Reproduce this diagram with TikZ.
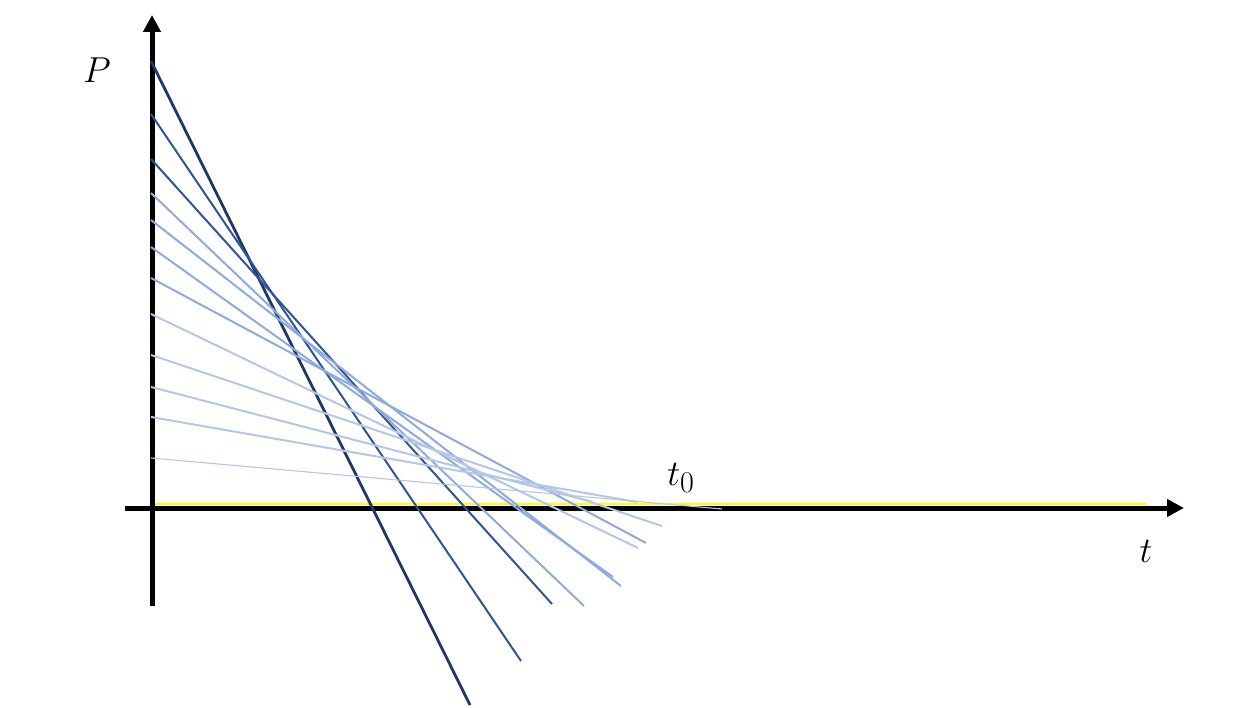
\documentclass[tikz,border=0pt]{standalone}
\usepackage{graphicx}
\usetikzlibrary{arrows.meta}
\definecolor{navy}{HTML}{203864}
\definecolor{midblue}{HTML}{2F5597}
\definecolor{lightblue}{HTML}{8FAADC}
\definecolor{paleblue}{HTML}{B4C7E7}
\definecolor{brightyellow}{HTML}{FFFF00}
\newcommand{\biglbl}[1]{\scalebox{1.45}{\Huge$#1$}}
\begin{document}
\begin{tikzpicture}[x=1pt,y=-1pt,
  axis/.style={line width=5pt,-{Triangle[length=17pt,width=17pt]}},
  tline/.style={line width=2pt},
  lbl/.style={inner sep=0pt}]
\useasboundingbox (0,0) rectangle (1245,708);
% axes
\coordinate (xs) at (125,508);
\coordinate (xe) at (1184,508);
\coordinate (ys) at (152,606);
\coordinate (ye) at (152,15);
\draw[axis] (xs) -- (xe);
\draw[axis] (ys) -- (ye);
% yellow line
\draw[brightyellow,line width=2.4pt] (154.5,504) -- (1147,504);
% tangent lines
\draw[tline,navy,line width=2.8pt] (151,61) -- (470,705);
\draw[tline,midblue] (151,114) -- (521,661);
\draw[tline,midblue] (151,159) -- (552,604);
\draw[tline,lightblue] (151,193) -- (584,606);
\draw[tline,lightblue] (151,220) -- (621,586);
\draw[tline,lightblue] (151,247) -- (613,577);
\draw[tline,lightblue] (151,278) -- (646,543);
\draw[tline,paleblue] (151,314) -- (638,548);
\draw[tline,paleblue] (151,355) -- (662,526);
\draw[tline,paleblue] (151,387) -- (593,502);
\draw[tline,paleblue] (151,417) -- (637,502);
\draw[paleblue,line width=1.1pt] (151,458) -- (722,509);
% labels
\node[lbl] (P) at (97,70) {\biglbl{P}};
\node[lbl] (t) at (1146,551) {\biglbl{t}};
\node[lbl] (t0) at (681,478) {\biglbl{t_0}};
\end{tikzpicture}
\end{document}
